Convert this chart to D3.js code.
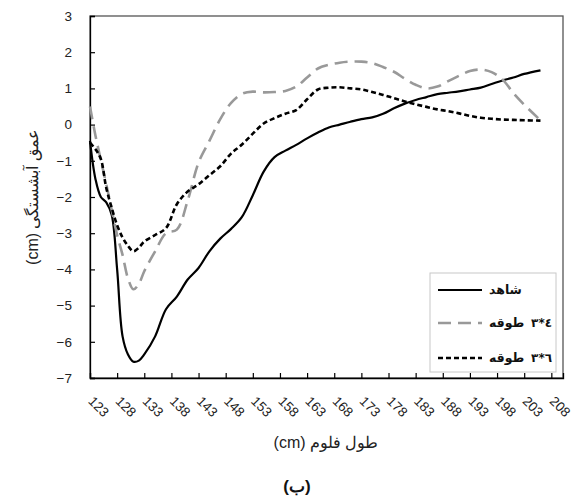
<!DOCTYPE html>
<html>
<head>
<meta charset="utf-8">
<script src="https://cdn.jsdelivr.net/npm/d3@7"></script>
<style>
  html, body { margin: 0; padding: 0; background: #fff; }
  svg { display: block; }
</style>
</head>
<body>
<svg id="chart" width="581" height="499"></svg>
<script>
// ---- data ----
const flumeLength = [123,124,125,126,127,128,129,130,131,132,133,135,137,139,141,143,145,147,149,151,153,155,157,159,161,163,165,167,169,171,173,175,177,179,181,183,185,187,189,191,193,195,197,199,201,203,206];
const control = [-0.45,-1.5,-2.0,-2.15,-2.5,-4.0,-5.85,-6.35,-6.55,-6.52,-6.35,-5.85,-5.1,-4.75,-4.28,-3.96,-3.5,-3.15,-2.88,-2.55,-1.95,-1.3,-0.9,-0.72,-0.56,-0.38,-0.22,-0.08,0.0,0.08,0.15,0.2,0.3,0.45,0.58,0.68,0.76,0.84,0.88,0.92,0.97,1.02,1.12,1.22,1.3,1.4,1.5];
const collar3x4 = [0.5,-0.3,-0.98,-1.65,-2.35,-3.05,-3.6,-4.25,-4.55,-4.4,-4.05,-3.5,-3.0,-2.9,-2.1,-1.05,-0.45,0.15,0.6,0.85,0.91,0.89,0.9,0.93,1.05,1.3,1.55,1.65,1.71,1.74,1.74,1.7,1.59,1.46,1.27,1.1,1.0,1.05,1.2,1.35,1.48,1.52,1.45,1.25,0.87,0.55,0.12];
const collar3x6 = [-0.5,-0.68,-0.95,-1.75,-2.3,-2.78,-3.12,-3.35,-3.5,-3.4,-3.23,-3.05,-2.86,-2.2,-1.85,-1.65,-1.4,-1.15,-0.8,-0.55,-0.25,0.03,0.18,0.3,0.4,0.7,0.97,1.02,1.03,1.0,0.97,0.9,0.82,0.73,0.64,0.56,0.49,0.42,0.37,0.31,0.24,0.19,0.16,0.14,0.13,0.12,0.11];
const seriesWords = ["شاهد", "طوقه", "طوقه"];
const seriesCodes = ["", "٣*٤", "٣*٦"];
const xTicks = [123,128,133,138,143,148,153,158,163,168,173,178,183,188,193,198,203,208];
const yTicks = [-7,-6,-5,-4,-3,-2,-1,0,1,2,3];
const xTitle = "طول فلوم (cm)";
const yTitle = "عمق آبشستگی (cm)";
const caption = "(ب)";

// ---- layout ----
const svg = d3.select("#chart");
const L = 90, R = 563, T = 16, B = 378;
const x = d3.scaleLinear().domain([123, 210.15]).range([L, R]);
const y = d3.scaleLinear().domain([-7, 3]).range([B, T]);

const styles = [
  { stroke: "#000", width: 2.2, dash: null },
  { stroke: "#999", width: 2.6, dash: "13,7" },
  { stroke: "#000", width: 2.6, dash: "5,3" }
];
const seriesData = [control, collar3x4, collar3x6];

// frame
svg.append("rect").attr("x", L).attr("y", T).attr("width", R - L).attr("height", B - T)
  .attr("fill", "none").attr("stroke", "#555").attr("stroke-width", 1.3);

// axes
const yAxis = d3.axisLeft(y).tickValues(yTicks).tickSize(-5).tickFormat(d3.format("d"));
const gy = svg.append("g").attr("transform", `translate(${L},0)`).call(yAxis);
gy.select(".domain").attr("stroke", "#000").attr("stroke-width", 1.3);
gy.selectAll(".tick line").attr("stroke", "#000").attr("stroke-width", 1.2);
gy.selectAll(".tick text").attr("font-family", "Liberation Sans, Arial, sans-serif")
  .attr("font-size", 13.5).attr("fill", "#222").attr("x", -18);

const xAxis = d3.axisBottom(x).tickValues(xTicks).tickSize(-5).tickFormat(d3.format("d"));
const gx = svg.append("g").attr("transform", `translate(0,${B})`).call(xAxis);
gx.select(".domain").attr("stroke", "#000").attr("stroke-width", 1.3);
gx.selectAll(".tick line").attr("stroke", "#000").attr("stroke-width", 1.2);
gx.selectAll(".tick text")
  .attr("font-family", "Liberation Sans, Arial, sans-serif").attr("font-size", 13.5).attr("fill", "#222")
  .attr("text-anchor", "start").attr("dy", null).attr("y", null)
  .attr("transform", "translate(-3,24) rotate(45)");

// lines
const line = d3.line().x((d, i) => x(flumeLength[i])).y(d => y(d)).curve(d3.curveCatmullRom.alpha(0.5));
seriesData.forEach((s, k) => {
  svg.append("path").datum(s).attr("d", line)
    .attr("fill", "none").attr("stroke", styles[k].stroke).attr("stroke-width", styles[k].width)
    .attr("stroke-dasharray", styles[k].dash).attr("stroke-linejoin", "round");
});

// legend
const lg = svg.append("g");
lg.append("rect").attr("x", 430).attr("y", 273).attr("width", 126).attr("height", 99)
  .attr("fill", "#fff").attr("stroke", "#c8c8c8").attr("stroke-width", 1);
const legY = [290, 323, 358];
function placeLeft(sel, left) {
  const b = sel.node().getBBox();
  sel.attr("transform", `translate(${left - b.x},0)`);
}
function placeRight(sel, right) {
  const b = sel.node().getBBox();
  sel.attr("transform", `translate(${right - (b.x + b.width)},0)`);
}
seriesWords.forEach((word, k) => {
  lg.append("line").attr("x1", 438).attr("x2", 482).attr("y1", legY[k]).attr("y2", legY[k])
    .attr("stroke", styles[k].stroke).attr("stroke-width", styles[k].width)
    .attr("stroke-dasharray", styles[k].dash);
  const t = lg.append("text").attr("x", 0).attr("y", legY[k] + 4)
    .attr("font-family", "DejaVu Sans, Noto Sans, sans-serif").attr("font-size", 12.5).attr("font-weight", "bold")
    .attr("fill", "#111").text(word);
  placeLeft(t, 489);
  if (seriesCodes[k]) {
    const c = lg.append("text").attr("x", 0).attr("y", legY[k] + 4)
      .attr("font-family", "DejaVu Sans, Noto Sans, sans-serif").attr("font-size", 12).attr("font-weight", "bold")
      .attr("fill", "#111").attr("direction", "ltr").attr("unicode-bidi", "bidi-override")
      .style("direction", "ltr").style("unicode-bidi", "bidi-override")
      .text(seriesCodes[k]);
    placeRight(c, 552);
  }
});

// titles
svg.append("text").attr("x", 326).attr("y", 448).attr("text-anchor", "middle")
  .attr("direction", "rtl").attr("font-family", "Liberation Sans, Arial, sans-serif")
  .attr("font-size", 16).attr("fill", "#222").text(xTitle);
svg.append("text").attr("transform", "translate(38,197) rotate(-90)").attr("text-anchor", "middle")
  .attr("direction", "rtl").attr("font-family", "Liberation Sans, Arial, sans-serif")
  .attr("font-size", 16).attr("fill", "#222").text(yTitle);
svg.append("text").attr("x", 297).attr("y", 492).attr("text-anchor", "middle")
  .attr("direction", "rtl").attr("font-family", "Liberation Sans, Arial, sans-serif")
  .attr("font-size", 17).attr("font-weight", "bold").attr("fill", "#111").text(caption);
</script>
</body>
</html>
